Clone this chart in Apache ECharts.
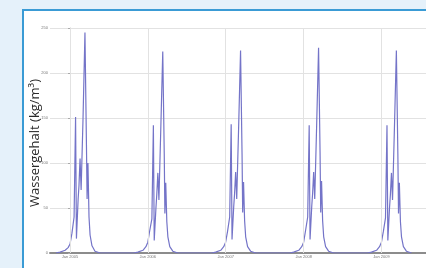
<!DOCTYPE html>
<html><head><meta charset="utf-8">
<script src="https://cdn.jsdelivr.net/npm/echarts@6/dist/echarts.min.js"></script>
<style>
html,body{margin:0;padding:0;width:426px;height:268px;overflow:hidden;background:#e5f1fa;}
#panel{position:absolute;left:22px;top:9px;width:420px;height:270px;background:#fff;border-top:2px solid #3a9bd5;border-left:2px solid #3a9bd5;}
#chart{position:absolute;left:0;top:0;width:426px;height:268px;}
</style></head><body>
<div id="panel"></div>
<div id="chart"></div>
<script>
// x: days since 1 Jan of first year
const yearStarts = [0, 365, 730, 1096, 1461];
const yearLabels = ['Jan 2005', 'Jan 2006', 'Jan 2007', 'Jan 2008', 'Jan 2009'];
// sample days relative to 1 Jan of each year
const sampleDays = [-66, -47, -23, -9, 0, 9, 19, 26, 30, 38, 42, 47, 52, 61, 70, 77, 80, 84, 89, 94, 103, 117, 141];
const wc2005 = [0, 1, 3, 6, 10, 22, 40, 151, 16, 60, 75, 105, 70, 150, 245, 120, 60, 100, 40, 20, 8, 2, 0];
const wc2006 = [0, 1, 3, 7, 12, 25, 38, 142, 14, 50, 65, 89, 59, 140, 224, 110, 44, 78, 35, 18, 7, 2, 0];
const wc2007 = [0, 1, 3, 7, 12, 24, 40, 143, 15, 52, 66, 90, 60, 140, 225, 110, 45, 79, 36, 18, 7, 2, 0];
const wc2008 = [0, 1, 3, 7, 12, 25, 40, 142, 15, 52, 66, 90, 60, 142, 228, 112, 45, 80, 36, 18, 7, 2, 0];
const wc2009 = [0, 1, 3, 7, 12, 24, 39, 142, 14, 51, 65, 89, 59, 140, 225, 110, 44, 78, 35, 18, 7, 2, 0];
const yTicks = [0, 50, 100, 150, 200, 250];
const yName = 'Wassergehalt (kg/m³)';

const yearValues = [wc2005, wc2006, wc2007, wc2008, wc2009];
const seriesData = [];
yearValues.forEach((vals, k) => {
  sampleDays.forEach((d, i) => seriesData.push([yearStarts[k] + d, vals[i]]));
});

const chart = echarts.init(document.getElementById('chart'));
chart.setOption({
  animation: false,
  backgroundColor: 'transparent',
  grid: {left: 50, right: 0, top: 28, bottom: 15},
  graphic: [{
    type: 'text', x: 35, y: 143, rotation: Math.PI / 2,
    style: {text: yName, fontFamily: 'Open Sans', fontSize: 13, fill: '#2a2a2a',
      align: 'center', verticalAlign: 'middle'}
  }],
  xAxis: {
    type: 'value', min: -94, max: 1670,
    axisLine: {show: true, lineStyle: {color: '#8c8c8c', width: 2}},
    axisTick: {show: false},
    splitLine: {show: false},
    axisLabel: {customValues: yearStarts, formatter: v => yearLabels[yearStarts.indexOf(v)] || '',
      fontSize: 4, color: '#777', margin: 2}
  },
  yAxis: {
    type: 'value', min: 0, max: 250, interval: 50,
    axisLine: {show: true, lineStyle: {color: '#c8c8c8', width: 1}},
    axisTick: {show: true, length: 2, lineStyle: {color: '#aaa'}},
    splitLine: {show: true, lineStyle: {color: '#e2e2e2'}},
    axisLabel: {fontSize: 4, color: '#777', margin: 2, formatter: v => yTicks.includes(v) ? String(v) : ''}
  },
  series: [{
    type: 'line', data: seriesData, showSymbol: false,
    lineStyle: {color: '#7474c8', width: 1.2},
    markLine: {
      silent: true, symbol: 'none', label: {show: false},
      lineStyle: {color: '#e2e2e2', type: 'solid', width: 1},
      data: yearStarts.map(v => ({xAxis: v}))
    }
  }]
});
</script>
</body></html>
